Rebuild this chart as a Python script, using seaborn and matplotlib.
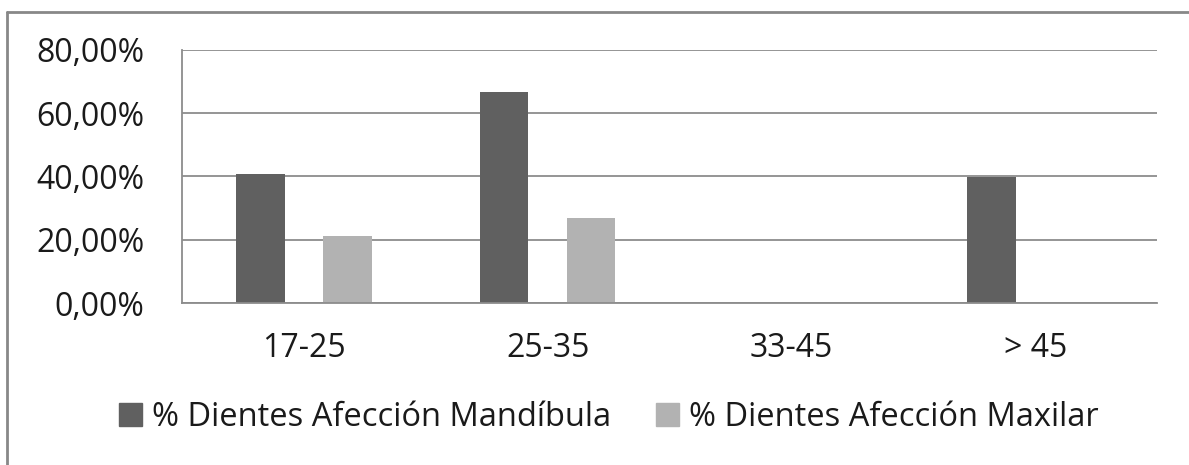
import pandas as pd
import numpy as np
import matplotlib
matplotlib.use("Agg")
import matplotlib.pyplot as plt
from matplotlib.ticker import FuncFormatter
import seaborn as sns

# datos
grupos = ["17-25", "25-35", "33-45", "> 45"]
mandibula = [40.8, 66.6, 0.0, 39.7]
maxilar = [21.2, 27.0, 0.0, 0.0]
series = ["% Dientes Afección Mandíbula", "% Dientes Afección Maxilar"]
colores = ["#606060", "#b2b2b2"]
yticks = [0, 20, 40, 60, 80]

df = pd.DataFrame({
    "grupo": grupos * 2,
    "valor": mandibula + maxilar,
    "serie": [series[0]] * len(grupos) + [series[1]] * len(grupos),
})

sns.set_theme(style="white")
plt.rcParams["font.family"] = ["Open Sans", "DejaVu Sans"]

fig = plt.figure(figsize=(11.89, 4.65), dpi=100)
ax = fig.add_axes([182 / 1189, 1 - 303 / 465, (1157 - 182) / 1189, (303 - 50) / 465])

sns.barplot(data=df, x="grupo", y="valor", hue="serie", order=grupos,
            hue_order=series, palette=colores, width=0.714, gap=0.44,
            linewidth=0, saturation=1, ax=ax)

ax.set_ylim(0, 80)
ax.set_xlim(-0.5, len(grupos) - 0.5)
ax.set_yticks(yticks)
ax.yaxis.set_major_formatter(FuncFormatter(lambda v, p: f"{v:.2f}%".replace(".", ",")))
ax.grid(axis="y", color="#8c8c8c", linewidth=1.3)
ax.set_axisbelow(True)
for s in ["top", "right"]:
    ax.spines[s].set_visible(False)
for s in ["left", "bottom"]:
    ax.spines[s].set_color("#8c8c8c")
    ax.spines[s].set_linewidth(1.3)
ax.tick_params(axis="y", length=0, pad=27, labelsize=23, labelcolor="#1a1a1a")
ax.tick_params(axis="x", length=0, pad=21, labelsize=23, labelcolor="#1a1a1a")
ax.set_xlabel("")
ax.set_ylabel("")

ax.get_legend().remove()
handles = [plt.Rectangle((0, 0), 1, 1, color=c) for c in colores]
fig.legend(handles, series, loc="center", bbox_to_anchor=(0.512, 1 - 417 / 465),
           ncol=2, frameon=False, fontsize=23.5, handlelength=0.7, handleheight=0.7,
           handletextpad=0.3, columnspacing=1.4, labelcolor="#1a1a1a")

# marco exterior (solo visible arriba e izquierda)
fig.add_artist(plt.Line2D([7 / 1189, 7 / 1189], [0, 1 - 12 / 465], color="#888888", linewidth=2))
fig.add_artist(plt.Line2D([7 / 1189, 1], [1 - 12 / 465, 1 - 12 / 465], color="#888888", linewidth=2))

fig.savefig("out.png", dpi=100)
